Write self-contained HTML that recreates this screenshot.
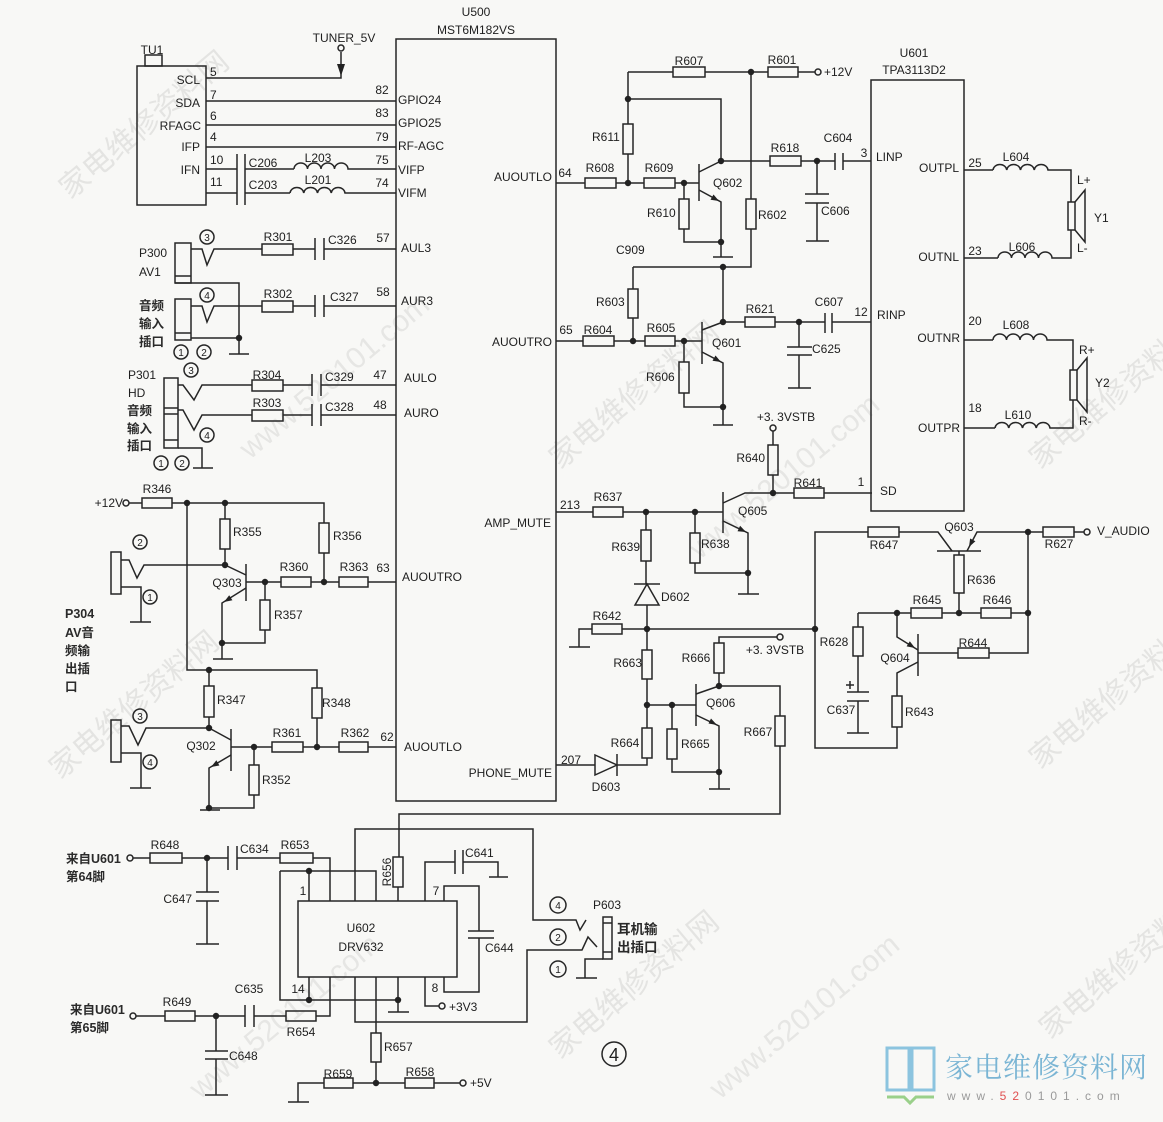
<!DOCTYPE html>
<html><head><meta charset="utf-8"><style>
html,body{margin:0;padding:0;background:#f8f8f6}
svg{display:block}
.t{font-family:"Liberation Sans","Noto Sans CJK SC",sans-serif;font-size:12px;fill:#1e1e1e}
.m{text-anchor:middle}
.e{text-anchor:end}
.c{font-family:"Liberation Sans","Noto Sans CJK SC",sans-serif;font-size:12.5px;fill:#2a2a2a;font-weight:bold}
.n{font-family:"Liberation Sans",sans-serif;font-size:10px;fill:#222;text-anchor:middle}
.wm{font-family:"Noto Sans CJK SC","WenQuanYi Zen Hei",sans-serif;font-size:30px;fill:#e4e4e2}
.wm2{font-family:"Liberation Sans",sans-serif;font-size:30px;fill:#e6e6e4}
</style></head><body>
<svg width="1163" height="1122" viewBox="0 0 1163 1122" xmlns="http://www.w3.org/2000/svg">
<rect width="1163" height="1122" fill="#f8f8f6"/>

<!-- watermarks -->
<g>
<text class="wm" transform="translate(70,200) rotate(-40)">家电维修资料网</text>
<text class="wm2" transform="translate(250,460) rotate(-40)">www.520101.com</text>
<text class="wm" transform="translate(560,470) rotate(-40)">家电维修资料网</text>
<text class="wm2" transform="translate(700,560) rotate(-40)">www.520101.com</text>
<text class="wm" transform="translate(1040,470) rotate(-40)">家电维修资料网</text>
<text class="wm" transform="translate(60,780) rotate(-40)">家电维修资料网</text>
<text class="wm2" transform="translate(200,1100) rotate(-40)">www.520101.com</text>
<text class="wm" transform="translate(560,1060) rotate(-40)">家电维修资料网</text>
<text class="wm2" transform="translate(720,1100) rotate(-40)">www.520101.com</text>
<text class="wm" transform="translate(1040,770) rotate(-40)">家电维修资料网</text>
<text class="wm" transform="translate(1050,1040) rotate(-40)">家电维修资料网</text>
</g>

<g stroke="#262626" stroke-width="1.5" fill="none">
<!-- ===== TU1 / U500 top ===== -->
<rect x="137" y="66" width="69" height="139"/>
<rect x="145" y="55" width="17" height="11"/>
<path d="M206 78 H341 V52"/>
<circle cx="341" cy="48" r="3"/>
<path d="M206 101 H396 M206 125 H396 M206 147 H396"/>
<path d="M206 169 H237 M237 154 V205 M245 154 V205 M245 169 H294"/>
<path d="M294 169 a6.75 6 0 0 1 13.5 0 a6.75 6 0 0 1 13.5 0 a6.75 6 0 0 1 13.5 0 a6.75 6 0 0 1 13.5 0 H396"/>
<path d="M206 193 H237 M245 193 H290"/>
<path d="M290 193 a6.9 6 0 0 1 13.75 0 a6.9 6 0 0 1 13.75 0 a6.9 6 0 0 1 13.75 0 a6.9 6 0 0 1 13.75 0 H396"/>
<rect x="396" y="39" width="160" height="762"/>

<!-- P300 -->
<rect x="175" y="243" width="16" height="40"/>
<path d="M175 276 H191"/>
<path d="M191 249 H202 L207 265 L214 249 H262"/>
<rect x="262" y="244" width="31" height="11"/>
<path d="M293 249 H315 M315 238 V260 M324 238 V260 M324 249 H396"/>
<path d="M175 283 H239 V354 M229 354 H249 M191 338 H239"/>
<rect x="175" y="299" width="16" height="41"/>
<path d="M175 333 H191"/>
<path d="M191 306 H202 L207 322 L214 306 H262"/>
<rect x="262" y="301" width="31" height="11"/>
<path d="M293 306 H315 M315 295 V317 M324 295 V317 M324 306 H396"/>

<!-- P301 -->
<rect x="164" y="378" width="14" height="70"/>
<path d="M164 408 H178 M164 414 H178 M164 440 H178"/>
<path d="M178 385 H183 L194 400 L202 385 H252"/>
<rect x="252" y="380" width="31" height="11"/>
<path d="M283 385 H312 M312 374 V396 M321 374 V396 M321 385 H396"/>
<path d="M178 410 H183 L194 430 L202 415 H252"/>
<rect x="252" y="410" width="31" height="11"/>
<path d="M283 415 H312 M312 404 V426 M321 404 V426 M321 415 H396"/>
<path d="M178 448 H202 V468 M193 468 H213"/>

<!-- circled numbers left -->
<circle cx="207" cy="237" r="7"/><circle cx="207" cy="295" r="7"/>
<circle cx="181" cy="352" r="7"/><circle cx="204" cy="352" r="7"/>
<circle cx="191" cy="370" r="7"/><circle cx="207" cy="435" r="7"/>
<circle cx="161" cy="463" r="7"/><circle cx="182" cy="463" r="7"/>
<circle cx="140" cy="542" r="7"/><circle cx="150" cy="597" r="7"/>
<circle cx="140" cy="716" r="7"/><circle cx="150" cy="762" r="7"/>

<!-- ===== Q303 / Q302 ===== -->
<circle cx="126" cy="503" r="3"/>
<path d="M129 503 H142"/>
<rect x="142" y="498" width="30" height="10"/>
<path d="M172 503 H324 V523"/>
<rect x="319" y="523" width="10" height="30"/>
<path d="M324 553 V582"/>
<path d="M225 503 V519"/>
<rect x="220" y="519" width="10" height="30"/>
<path d="M225 549 V565"/>
<rect x="111" y="552" width="10" height="42"/>
<path d="M121 560 H129 L137 578 L144 565 H225 L246 575"/>
<path d="M246 564 V601"/>
<path d="M246 582 H281 M311 582 H339 M368 582 H396"/>
<rect x="281" y="577" width="30" height="10"/>
<rect x="339" y="577" width="29" height="10"/>
<path d="M246 588 L222 603 V659 M213 659 H233"/>
<path d="M265 582 V600"/>
<rect x="260" y="600" width="10" height="30"/>
<path d="M265 630 V643 H222"/>
<path d="M121 587 H141 V622 M130 622 H151"/>

<path d="M187 503 V670 H317 V688"/>
<rect x="312" y="688" width="10" height="30"/>
<path d="M317 718 V747"/>
<path d="M209 670 V686"/>
<rect x="204" y="686" width="10" height="31"/>
<path d="M209 717 V728"/>
<rect x="111" y="720" width="10" height="42"/>
<path d="M121 726 H129 L138 745 L146 728 H209 L231 740"/>
<path d="M231 729 V771"/>
<path d="M231 747 H272 M303 747 H339 M368 747 H396"/>
<rect x="272" y="742" width="31" height="10"/>
<rect x="339" y="742" width="29" height="10"/>
<path d="M231 755 L209 768 V810 M200 810 H220"/>
<path d="M254 747 V765"/>
<rect x="249" y="765" width="10" height="30"/>
<path d="M254 795 V808 H209"/>
<path d="M121 753 H141 V788 M130 788 H151"/>

<!-- ===== Q602/Q601 ===== -->
<path d="M628 72 H673 M705 72 H768 M798 72 H815"/>
<rect x="673" y="67" width="32" height="10"/>
<rect x="768" y="67" width="30" height="10"/>
<circle cx="818" cy="72" r="3"/>
<path d="M628 72 V124 M628 154 V183"/>
<rect x="623" y="124" width="10" height="30"/>
<path d="M628 99 H721 V161"/>
<path d="M556 183 H585 M616 183 H644 M675 183 H699"/>
<rect x="585" y="178" width="31" height="10"/>
<rect x="644" y="178" width="31" height="10"/>
<path d="M699 164 V201"/>
<path d="M699 172 L721 161"/>
<path d="M699 190 L721 202 V257 M713 257 H733"/>
<path d="M684 183 V199 M684 229 V242 H721"/>
<rect x="679" y="199" width="10" height="30"/>
<path d="M751 72 V199 M751 229 V267 H633"/>
<rect x="746" y="199" width="10" height="30"/>
<path d="M721 161 H770 M801 161 H835 M835 153 V170 M843 153 V170 M843 161 H871"/>
<rect x="770" y="156" width="31" height="10"/>
<path d="M817 161 V194 M805 194 H829 M805 203 H829 M817 203 V241 M806 241 H829"/>

<path d="M633 267 V289 M633 318 V341"/>
<rect x="628" y="289" width="10" height="29"/>
<path d="M556 341 H583 M614 341 H645 M675 341 H702"/>
<rect x="583" y="336" width="31" height="10"/>
<rect x="645" y="336" width="30" height="10"/>
<path d="M702 322 V364"/>
<path d="M702 330 L723 322"/>
<path d="M702 352 L723 363 V425 M713 425 H733"/>
<path d="M684 341 V362 M684 393 V407 H723"/>
<rect x="679" y="362" width="10" height="31"/>
<path d="M723 267 V322 H745 M775 322 H825 M825 313 V333 M832 313 V333 M832 322 H871"/>
<rect x="745" y="317" width="30" height="10"/>
<path d="M799 322 V347 M787 347 H812 M787 355 H812 M799 355 V388 M788 388 H811"/>

<!-- ===== U601 ===== -->
<rect x="871" y="80" width="93" height="431"/>
<path d="M964 170 H993"/>
<path d="M993 170 a6.9 6 0 0 1 13.75 0 a6.9 6 0 0 1 13.75 0 a6.9 6 0 0 1 13.75 0 a6.9 6 0 0 1 13.75 0 H1071 V202"/>
<path d="M964 258 H998"/>
<path d="M998 258 a6.75 6 0 0 1 13.5 0 a6.75 6 0 0 1 13.5 0 a6.75 6 0 0 1 13.5 0 a6.75 6 0 0 1 13.5 0 H1071 V230"/>
<rect x="1068" y="202" width="7" height="28"/>
<path d="M1075 202 L1085 190 V242 L1075 230"/>
<path d="M964 340 H993"/>
<path d="M993 340 a6.75 6 0 0 1 13.5 0 a6.75 6 0 0 1 13.5 0 a6.75 6 0 0 1 13.5 0 a6.75 6 0 0 1 13.5 0 H1073 V370"/>
<path d="M964 428 H995"/>
<path d="M995 428 a6.9 6 0 0 1 13.75 0 a6.9 6 0 0 1 13.75 0 a6.9 6 0 0 1 13.75 0 a6.9 6 0 0 1 13.75 0 H1073 V400"/>
<rect x="1070" y="370" width="7" height="30"/>
<path d="M1077 370 L1087 358 V412 L1077 400"/>

<!-- ===== SD / mute ===== -->
<circle cx="773" cy="428" r="3"/>
<path d="M773 431 V445 M773 475 V493"/>
<rect x="768" y="445" width="10" height="30"/>
<path d="M773 493 H794 M824 493 H872"/>
<rect x="794" y="488" width="30" height="10"/>
<path d="M723 492 V533"/>
<path d="M723 503 L745 493 H773"/>
<path d="M556 512 H593 M623 512 H723"/>
<rect x="593" y="507" width="30" height="10"/>
<path d="M723 521 L748 533 V594 M738 594 H759"/>
<path d="M695 512 V533 M695 563 V573 H748"/>
<rect x="690" y="533" width="10" height="30"/>
<path d="M646 512 V530 M646 561 V584"/>
<rect x="641" y="530" width="10" height="31"/>
<path d="M634 584 H660"/>
<polygon points="635,605 659,605 647,584"/>
<path d="M647 605 V629 H622 M592 629 H579 V647 M569 647 H590"/>
<rect x="592" y="624" width="30" height="10"/>
<path d="M647 629 H815"/>
<path d="M647 629 V650 M647 679 V728"/>
<rect x="642" y="650" width="10" height="29"/>
<path d="M647 705 H696"/>
<path d="M696 684 V726"/>
<path d="M696 694 L719 686"/>
<path d="M696 715 L719 726 V789 M709 789 H730"/>
<path d="M719 686 V673 M719 643 V637 H777"/>
<rect x="714" y="643" width="10" height="30"/>
<circle cx="780" cy="637" r="3"/>
<path d="M719 686 H780 V716 M780 746 V814 H399 V857 M398 887 V901"/>
<rect x="775" y="716" width="10" height="30"/>
<rect x="393" y="857" width="10" height="30"/>
<path d="M672 705 V729 M672 759 V772 H719"/>
<rect x="667" y="729" width="10" height="30"/>
<rect x="642" y="728" width="10" height="30"/>
<path d="M647 758 V765 H617 M595 765 H556"/>
<polygon points="595,755 595,775 617,765"/>
<path d="M617 754 V776"/>

<!-- ===== V_AUDIO ===== -->
<path d="M815 629 V532 H868 M899 532 H938 L952 551"/>
<rect x="868" y="527" width="31" height="10"/>
<path d="M937 551 H981"/>
<path d="M967 551 L977 532 H1043 M1074 532 H1084"/>
<rect x="1043" y="527" width="31" height="10"/>
<circle cx="1087" cy="532" r="3"/>
<path d="M1028 532 V653 H989 M958 653 H918"/>
<rect x="958" y="648" width="31" height="10"/>
<path d="M918 634 V676"/>
<path d="M959 551 V555 M959 593 V613"/>
<rect x="954" y="555" width="10" height="38"/>
<path d="M858 613 H911 M942 613 H981 M1011 613 H1028"/>
<rect x="911" y="608" width="31" height="10"/>
<rect x="981" y="608" width="30" height="10"/>
<path d="M918 650 L897 637 V613"/>
<path d="M918 662 L897 673 V696 M897 727 V748 H815 V629"/>
<rect x="892" y="696" width="10" height="31"/>
<path d="M858 613 V627 M858 656 V692"/>
<rect x="853" y="627" width="10" height="29"/>
<path d="M847 692 H869 M847 701 H869 M858 701 V733 M847 733 H869"/>
<path d="M846 685 H854 M850 681 V689"/>

<!-- ===== U602 ===== -->
<circle cx="130" cy="858" r="3"/>
<path d="M133 858 H150 M182 858 H228 M228 846 V870 M237 846 V870 M237 858 H280 M313 858 H330 V901"/>
<rect x="150" y="853" width="32" height="10"/>
<rect x="280" y="853" width="33" height="10"/>
<path d="M207 858 V892 M196 892 H219 M196 901 H219 M207 901 V944 M196 944 H219"/>
<rect x="298" y="901" width="159" height="76"/>
<path d="M280 871 H376 V901 M280 871 V1000 H398 M309 871 V901 M309 977 V1000 M398 977 V1012 M388 1012 H409"/>
<path d="M355 901 V829 H533 V920 H576 L580 930 L586 920"/>
<path d="M425 901 V862 H455 M455 850 V874 M463 850 V874 M463 862 H498 V877 M489 877 H508"/>
<path d="M444 901 V886 H479 V931 M468 931 H494 M468 938 H494 M479 938 V992 H444 V977"/>
<path d="M330 977 V1016 H316 M286 1016 H254 M254 1005 V1027 M245 1005 V1027 M245 1016 H195 M165 1016 H136"/>
<rect x="286" y="1011" width="30" height="10"/>
<rect x="165" y="1011" width="30" height="10"/>
<circle cx="133" cy="1016" r="3"/>
<path d="M216 1016 V1051 M205 1051 H228 M205 1059 H228 M216 1059 V1095 M205 1095 H228"/>
<path d="M355 977 V1022 H527 V950 H582 L588 937 L597 947"/>
<path d="M376 977 V1033 M376 1062 V1083 H353 M324 1083 H298 V1102 M288 1102 H309 M376 1083 H405 M434 1083 H460"/>
<rect x="371" y="1033" width="10" height="29"/>
<rect x="324" y="1078" width="29" height="10"/>
<rect x="405" y="1078" width="29" height="10"/>
<circle cx="463" cy="1083" r="3"/>
<path d="M425 977 V1006 H439"/>
<circle cx="442" cy="1006" r="3"/>
<rect x="603" y="917" width="9" height="42"/>
<path d="M603 923 H612 M603 952 H612"/>
<path d="M603 959 H585 V978 M576 978 H597"/>
<circle cx="558" cy="905" r="8"/><circle cx="558" cy="937" r="8"/><circle cx="558" cy="969" r="8"/>
<circle cx="614" cy="1054" r="12"/>
</g>

<!-- dots, arrows, filled -->
<g fill="#222">
<polygon points="337,64 345,64 341,76"/>
<circle cx="239" cy="338" r="3.2"/>
<circle cx="187" cy="503" r="3.2"/><circle cx="225" cy="503" r="3.2"/>
<circle cx="225" cy="565" r="3.2"/><circle cx="265" cy="582" r="3.2"/><circle cx="324" cy="582" r="3.2"/>
<circle cx="222" cy="643" r="3.2"/><circle cx="209" cy="670" r="3.2"/><circle cx="209" cy="728" r="3.2"/>
<circle cx="254" cy="747" r="3.2"/><circle cx="317" cy="747" r="3.2"/><circle cx="209" cy="808" r="3.2"/>
<polygon points="224,602 232.4,600.3 229.2,595.3"/>
<polygon points="211,767 219.4,765.5 216.4,760.3"/>
<circle cx="751" cy="72" r="3.2"/><circle cx="628" cy="99" r="3.2"/><circle cx="628" cy="183" r="3.2"/>
<circle cx="684" cy="183" r="3.2"/><circle cx="721" cy="161" r="3.2"/><circle cx="817" cy="161" r="3.2"/>
<circle cx="721" cy="242" r="3.2"/><circle cx="723" cy="267" r="3.2"/><circle cx="633" cy="341" r="3.2"/>
<circle cx="684" cy="341" r="3.2"/><circle cx="723" cy="322" r="3.2"/><circle cx="799" cy="322" r="3.2"/>
<circle cx="723" cy="407" r="3.2"/>
<polygon points="719,201 710.5,199.8 713.5,194.5"/>
<polygon points="721,362 712.5,360.8 715.5,355.5"/>
<circle cx="773" cy="493" r="3.2"/><circle cx="646" cy="512" r="3.2"/><circle cx="695" cy="512" r="3.2"/>
<circle cx="748" cy="573" r="3.2"/><circle cx="647" cy="629" r="3.2"/><circle cx="815" cy="629" r="3.2"/>
<circle cx="647" cy="705" r="3.2"/><circle cx="672" cy="705" r="3.2"/><circle cx="719" cy="686" r="3.2"/>
<circle cx="719" cy="772" r="3.2"/>
<polygon points="746,532 737.5,531.2 740.1,525.8"/>
<polygon points="717,725 708.5,723.5 711,718.5"/>
<circle cx="1028" cy="532" r="3.2"/><circle cx="959" cy="613" r="3.2"/><circle cx="897" cy="613" r="3.2"/>
<circle cx="1028" cy="613" r="3.2"/>
<polygon points="969,547 975.4,541.3 970.1,538.5"/>
<polygon points="915,648 906.6,646.4 909.8,641.3"/>
<circle cx="207" cy="858" r="3.2"/><circle cx="309" cy="871" r="3.2"/><circle cx="309" cy="1000" r="3.2"/>
<circle cx="398" cy="1000" r="3.2"/><circle cx="216" cy="1016" r="3.2"/><circle cx="376" cy="1083" r="3.2"/>
</g>

<!-- ===== TEXT ===== -->
<g>
<text class="t m" x="476" y="16">U500</text>
<text class="t m" x="476" y="34">MST6M182VS</text>
<text class="t m" x="344" y="42">TUNER_5V</text>
<text class="t m" x="152" y="54">TU1</text>
<text class="t e" x="200" y="84">SCL</text>
<text class="t e" x="200" y="107">SDA</text>
<text class="t e" x="201" y="130">RFAGC</text>
<text class="t e" x="200" y="151">IFP</text>
<text class="t e" x="200" y="174">IFN</text>
<text class="t" x="210" y="76">5</text>
<text class="t" x="210" y="99">7</text>
<text class="t" x="210" y="120">6</text>
<text class="t" x="210" y="141">4</text>
<text class="t" x="210" y="164">10</text>
<text class="t" x="210" y="186">11</text>
<text class="t m" x="263" y="167">C206</text>
<text class="t m" x="318" y="162">L203</text>
<text class="t m" x="263" y="189">C203</text>
<text class="t m" x="318" y="184">L201</text>
<text class="t m" x="382" y="94">82</text>
<text class="t m" x="382" y="117">83</text>
<text class="t m" x="382" y="141">79</text>
<text class="t m" x="382" y="164">75</text>
<text class="t m" x="382" y="187">74</text>
<text class="t" x="398" y="104">GPIO24</text>
<text class="t" x="398" y="127">GPIO25</text>
<text class="t" x="398" y="150">RF-AGC</text>
<text class="t" x="398" y="174">VIFP</text>
<text class="t" x="398" y="197">VIFM</text>

<text class="t m" x="278" y="241">R301</text>
<text class="t" x="328" y="244">C326</text>
<text class="t m" x="383" y="242">57</text>
<text class="t" x="401" y="252">AUL3</text>
<text class="t m" x="278" y="298">R302</text>
<text class="t" x="330" y="301">C327</text>
<text class="t m" x="383" y="296">58</text>
<text class="t" x="401" y="305">AUR3</text>
<text class="t" x="139" y="257" fill="#666">P300</text>
<text class="t" x="139" y="276" fill="#666">AV1</text>
<text class="c" x="139" y="310">音频</text>
<text class="c" x="139" y="328">输入</text>
<text class="c" x="139" y="346">插口</text>

<text class="t m" x="267" y="379">R304</text>
<text class="t" x="325" y="381">C329</text>
<text class="t m" x="380" y="379">47</text>
<text class="t" x="404" y="382">AULO</text>
<text class="t m" x="267" y="407">R303</text>
<text class="t" x="325" y="411">C328</text>
<text class="t m" x="380" y="409">48</text>
<text class="t" x="404" y="417">AURO</text>
<text class="t" x="128" y="379">P301</text>
<text class="t" x="128" y="397">HD</text>
<text class="c" x="127" y="415">音频</text>
<text class="c" x="127" y="433">输入</text>
<text class="c" x="127" y="450">插口</text>

<text class="n" x="207" y="241">3</text>
<text class="n" x="207" y="299">4</text>
<text class="n" x="181" y="356">1</text>
<text class="n" x="204" y="356">2</text>
<text class="n" x="191" y="374">3</text>
<text class="n" x="207" y="439">4</text>
<text class="n" x="161" y="467">1</text>
<text class="n" x="182" y="467">2</text>
<text class="n" x="140" y="546">2</text>
<text class="n" x="150" y="601">1</text>
<text class="n" x="140" y="720">3</text>
<text class="n" x="150" y="766">4</text>

<text class="t e" x="123" y="507">+12V</text>
<text class="t m" x="157" y="493">R346</text>
<text class="t" x="233" y="536">R355</text>
<text class="t" x="333" y="540">R356</text>
<text class="t m" x="294" y="571">R360</text>
<text class="t m" x="354" y="571">R363</text>
<text class="t m" x="383" y="572">63</text>
<text class="t" x="402" y="581">AUOUTRO</text>
<text class="t m" x="227" y="587">Q303</text>
<text class="t" x="274" y="619">R357</text>
<text class="c" x="65" y="618">P304</text>
<text class="c" x="65" y="637">AV音</text>
<text class="c" x="65" y="655">频输</text>
<text class="c" x="65" y="673">出插</text>
<text class="c" x="65" y="691">口</text>
<text class="t" x="217" y="704">R347</text>
<text class="t" x="322" y="707">R348</text>
<text class="t m" x="201" y="750">Q302</text>
<text class="t m" x="287" y="737">R361</text>
<text class="t m" x="355" y="737">R362</text>
<text class="t m" x="387" y="741">62</text>
<text class="t" x="404" y="751">AUOUTLO</text>
<text class="t" x="262" y="784">R352</text>
<text class="t e" x="551" y="527">AMP_MUTE</text>
<text class="t m" x="570" y="509">213</text>
<text class="t e" x="552" y="777">PHONE_MUTE</text>
<text class="t m" x="571" y="764">207</text>

<text class="t m" x="689" y="65">R607</text>
<text class="t m" x="782" y="64">R601</text>
<text class="t" x="824" y="76">+12V</text>
<text class="t m" x="914" y="57">U601</text>
<text class="t m" x="914" y="74">TPA3113D2</text>
<text class="t" x="592" y="141">R611</text>
<text class="t e" x="552" y="181">AUOUTLO</text>
<text class="t m" x="565" y="177">64</text>
<text class="t m" x="600" y="172">R608</text>
<text class="t m" x="659" y="172">R609</text>
<text class="t" x="713" y="187">Q602</text>
<text class="t" x="647" y="217">R610</text>
<text class="t" x="758" y="219">R602</text>
<text class="t m" x="785" y="152">R618</text>
<text class="t m" x="838" y="142">C604</text>
<text class="t m" x="864" y="157">3</text>
<text class="t" x="876" y="161">LINP</text>
<text class="t" x="821" y="215">C606</text>
<text class="t" x="616" y="254">C909</text>
<text class="t" x="596" y="306">R603</text>
<text class="t e" x="552" y="346">AUOUTRO</text>
<text class="t m" x="566" y="334">65</text>
<text class="t m" x="598" y="334">R604</text>
<text class="t m" x="661" y="332">R605</text>
<text class="t" x="712" y="347">Q601</text>
<text class="t" x="646" y="381">R606</text>
<text class="t m" x="760" y="313">R621</text>
<text class="t m" x="829" y="306">C607</text>
<text class="t m" x="861" y="316">12</text>
<text class="t" x="877" y="319">RINP</text>
<text class="t" x="812" y="353">C625</text>

<text class="t e" x="959" y="172">OUTPL</text>
<text class="t m" x="975" y="167">25</text>
<text class="t m" x="1016" y="161">L604</text>
<text class="t" x="1077" y="184">L+</text>
<text class="t" x="1077" y="252">L-</text>
<text class="t" x="1094" y="222">Y1</text>
<text class="t e" x="959" y="261">OUTNL</text>
<text class="t m" x="975" y="255">23</text>
<text class="t m" x="1022" y="251">L606</text>
<text class="t e" x="960" y="342">OUTNR</text>
<text class="t m" x="975" y="325">20</text>
<text class="t m" x="1016" y="329">L608</text>
<text class="t" x="1079" y="354">R+</text>
<text class="t" x="1079" y="425">R-</text>
<text class="t" x="1095" y="387">Y2</text>
<text class="t e" x="960" y="432">OUTPR</text>
<text class="t m" x="975" y="412">18</text>
<text class="t m" x="1018" y="419">L610</text>
<text class="t m" x="786" y="421">+3. 3VSTB</text>
<text class="t e" x="765" y="462">R640</text>
<text class="t m" x="808" y="487">R641</text>
<text class="t m" x="861" y="486">1</text>
<text class="t" x="880" y="495">SD</text>
<text class="t m" x="608" y="501">R637</text>
<text class="t" x="738" y="515">Q605</text>
<text class="t e" x="640" y="551">R639</text>
<text class="t" x="701" y="548">R638</text>
<text class="t" x="661" y="601">D602</text>
<text class="t m" x="607" y="620">R642</text>
<text class="t e" x="642" y="667">R663</text>
<text class="t m" x="696" y="662">R666</text>
<text class="t m" x="775" y="654">+3. 3VSTB</text>
<text class="t" x="706" y="707">Q606</text>
<text class="t m" x="758" y="736">R667</text>
<text class="t m" x="625" y="747">R664</text>
<text class="t" x="681" y="748">R665</text>
<text class="t m" x="606" y="791">D603</text>

<text class="t m" x="959" y="531">Q603</text>
<text class="t m" x="884" y="549">R647</text>
<text class="t m" x="1059" y="548">R627</text>
<text class="t" x="1097" y="535">V_AUDIO</text>
<text class="t" x="967" y="584">R636</text>
<text class="t m" x="927" y="604">R645</text>
<text class="t m" x="997" y="604">R646</text>
<text class="t m" x="834" y="646">R628</text>
<text class="t m" x="895" y="662">Q604</text>
<text class="t m" x="973" y="647">R644</text>
<text class="t m" x="841" y="714">C637</text>
<text class="t" x="905" y="716">R643</text>

<text class="c" x="66" y="863">来自U601</text>
<text class="c" x="66" y="881">第64脚</text>
<text class="t m" x="165" y="849">R648</text>
<text class="t" x="240" y="853">C634</text>
<text class="t m" x="295" y="849">R653</text>
<text class="t e" x="192" y="903">C647</text>
<text class="t m" x="303" y="895">1</text>
<text class="t m" transform="translate(391,872) rotate(-90)">R656</text>
<text class="t" x="465" y="857">C641</text>
<text class="t m" x="436" y="895">7</text>
<text class="t m" x="361" y="932">U602</text>
<text class="t m" x="361" y="951">DRV632</text>
<text class="t" x="485" y="952">C644</text>
<text class="t m" x="607" y="909">P603</text>
<text class="c" x="617" y="934" style="font-size:13.5px">耳机输</text>
<text class="c" x="617" y="952" style="font-size:13.5px">出插口</text>
<text class="n" x="558" y="909">4</text>
<text class="n" x="558" y="941">2</text>
<text class="n" x="558" y="973">1</text>
<text class="t m" x="298" y="993">14</text>
<text class="t m" x="435" y="992">8</text>
<text class="t m" x="249" y="993">C635</text>
<text class="c" x="70" y="1014">来自U601</text>
<text class="c" x="70" y="1032">第65脚</text>
<text class="t m" x="177" y="1006">R649</text>
<text class="t m" x="301" y="1036">R654</text>
<text class="t" x="449" y="1011">+3V3</text>
<text class="t" x="229" y="1060">C648</text>
<text class="t" x="384" y="1051">R657</text>
<text class="t m" x="338" y="1078">R659</text>
<text class="t m" x="420" y="1076">R658</text>
<text class="t" x="470" y="1087">+5V</text>
<text class="t m" x="614" y="1061" style="font-size:18px">4</text>
</g>

<!-- logo bottom-right -->
<g>
<path d="M887 1048 H909 V1090 H887 Z M912 1048 H934 V1090 H912 Z" fill="none" stroke="#8cc4df" stroke-width="3"/>
<path d="M887 1097 H904 L910 1103 L916 1097 H934" fill="none" stroke="#9ad08a" stroke-width="3"/>
<text x="945" y="1077" style="font-family:'Noto Serif CJK SC','Noto Sans CJK SC',serif;font-size:28px;fill:#7ab5d4;letter-spacing:1px">家电维修资料网</text>
<text x="947" y="1100" style="font-family:'Liberation Sans',sans-serif;font-size:12px;fill:#9a9a9a;letter-spacing:6px">www.<tspan fill="#e05050">52</tspan>0101.com</text>
</g>
</svg>
</body></html>
